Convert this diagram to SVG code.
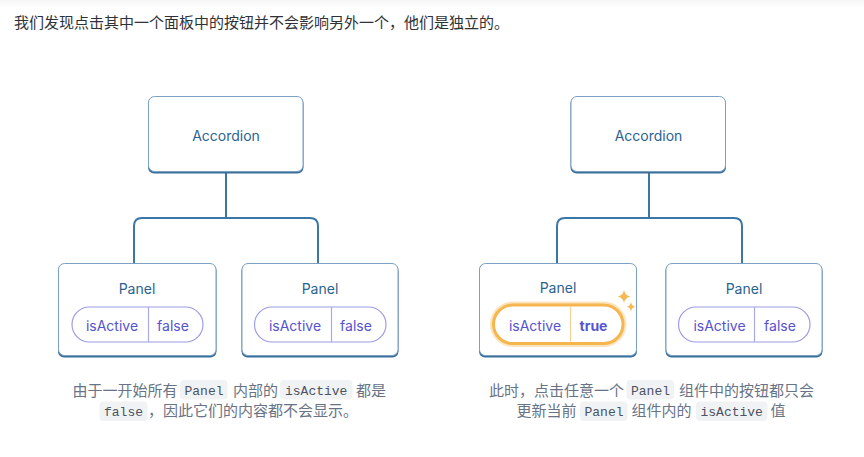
<svg xmlns="http://www.w3.org/2000/svg" width="864" height="457" viewBox="0 0 864 457">
<defs>
<linearGradient id="topband" x1="0" y1="0" x2="0" y2="1">
<stop offset="0" stop-color="#f6f6f6"/><stop offset="1" stop-color="#ffffff"/>
</linearGradient>
</defs>
<style>
.bg{fill:#ffffff}
.shadow{fill:#3b6f9b}
.box{fill:#ffffff;stroke:#7aa1c4;stroke-width:1}
.node{font-family:Inter,"Open Sans","Liberation Sans",sans-serif;font-size:14px;fill:#2a6390;text-anchor:middle;dominant-baseline:central}
.pill{fill:#ffffff;stroke:#9c9ce6;stroke-width:1.2}
.div{stroke:#a9a9ea;stroke-width:1.2}
.ptext{font-family:Inter,"Open Sans","Liberation Sans",sans-serif;font-size:14px;fill:#5653d0;text-anchor:middle;dominant-baseline:central}
.conn{fill:none;stroke:#3a76a6;stroke-width:2}
.cap{font-family:"Noto Sans CJK SC","Noto Sans",sans-serif;font-size:15px;fill:#687386}
.code{fill:#f1f2f4}
.mono{font-family:"Liberation Mono","DejaVu Sans Mono",monospace;font-size:13px;fill:#4b5262}
.top{font-family:"Noto Sans CJK SC","Noto Sans",sans-serif;font-size:15px;fill:#2e3238}
.spark{fill:#f6b955}
</style>
<rect class="bg" x="0" y="0" width="864" height="457"/>
<rect x="0" y="0" width="864" height="8" fill="url(#topband)"/>
<text class="top" x="14" y="27.5">我们发现点击其中一个面板中的按钮并不会影响另外一个，他们是独立的。</text>

<g id="connectors">
<path class="conn" d="M226 172 V218 M134 263 V226 Q134 218 142 218 H310 Q318 218 318 226 V263"/>
<path class="conn" d="M649 172 V218 M557 263 V226 Q557 218 565 218 H734 Q742 218 742 226 V263"/>
</g>

<g id="accordion-left">
<rect class="shadow" x="148" y="97.5" width="155.5" height="76" rx="6"/>
<rect class="box" x="148.5" y="96.5" width="154.5" height="75" rx="6"/>
<text class="node" x="226" y="135">Accordion</text>
</g>
<g id="panel-left-1">
<rect class="shadow" x="58" y="264.5" width="158.5" height="93" rx="6"/>
<rect class="box" x="58.5" y="263.5" width="157.5" height="92" rx="6"/>
<text class="node" x="137" y="288">Panel</text>
<rect class="pill" x="72" y="307" width="131" height="35" rx="17.5"/>
<line class="div" x1="148.5" y1="307" x2="148.5" y2="342"/>
<text class="ptext" x="112" y="325">isActive</text>
<text class="ptext" x="173" y="325">false</text>
</g>
<g id="panel-left-2">
<rect class="shadow" x="241.5" y="264.5" width="157" height="93" rx="6"/>
<rect class="box" x="242" y="263.5" width="156" height="92" rx="6"/>
<text class="node" x="320" y="288">Panel</text>
<rect class="pill" x="254.5" y="307" width="131.5" height="35" rx="17.5"/>
<line class="div" x1="331.5" y1="307" x2="331.5" y2="342"/>
<text class="ptext" x="295" y="325">isActive</text>
<text class="ptext" x="356" y="325">false</text>
</g>

<g id="accordion-right">
<rect class="shadow" x="570.5" y="97.5" width="155.5" height="76" rx="6"/>
<rect class="box" x="571" y="96.5" width="154.5" height="75" rx="6"/>
<text class="node" x="648.5" y="135">Accordion</text>
</g>
<g id="panel-right-1">
<rect class="shadow" x="479" y="264.5" width="158" height="93" rx="6"/>
<rect class="box" x="479.5" y="263.5" width="157" height="92" rx="6"/>
<text class="node" x="558" y="287">Panel</text>
<rect x="490" y="301.5" width="136.5" height="45.5" rx="22.75" fill="#fde3bb"/>
<rect x="493.5" y="305" width="129.5" height="38.5" rx="19.25" fill="#ffffff" stroke="#f6b64f" stroke-width="3"/>
<line x1="570.5" y1="306.5" x2="570.5" y2="341.5" stroke="#f8cf95" stroke-width="1.2"/>
<text class="ptext" x="535" y="325">isActive</text>
<text class="ptext" x="593.5" y="325" font-weight="700" fill="#4a47c2">true</text>
<path class="spark" d="M624 290 Q625 295.5 630.5 296.5 Q625 297.5 624 303 Q623 297.5 617.5 296.5 Q623 295.5 624 290 Z"/>
<path class="spark" d="M631 302 Q631.6 306 635.5 306.8 Q631.6 307.6 631 311.5 Q630.4 307.6 626.5 306.8 Q630.4 306 631 302 Z"/>
</g>
<g id="panel-right-2">
<rect class="shadow" x="665.5" y="264.5" width="157" height="93" rx="6"/>
<rect class="box" x="666" y="263.5" width="156" height="92" rx="6"/>
<text class="node" x="744" y="288">Panel</text>
<rect class="pill" x="678.5" y="307" width="131.5" height="35" rx="17.5"/>
<line class="div" x1="754.5" y1="307" x2="754.5" y2="342"/>
<text class="ptext" x="719.5" y="325">isActive</text>
<text class="ptext" x="780" y="325">false</text>
</g>

<g id="caption-left">
<rect class="code" x="180" y="380" width="47.5" height="19.5" rx="4"/>
<rect class="code" x="280" y="380" width="72.5" height="19.5" rx="4"/>
<rect class="code" x="99.5" y="401.5" width="48" height="19.5" rx="4"/>
<text class="cap" x="72.5" y="395.5">由于一开始所有</text>
<text class="mono" x="184.5" y="394.5">Panel</text>
<text class="cap" x="233" y="395.5">内部的</text>
<text class="mono" x="285" y="394.5">isActive</text>
<text class="cap" x="356" y="395.5">都是</text>
<text class="mono" x="104" y="416">false</text>
<text class="cap" x="148" y="416">，因此它们的内容都不会显示。</text>
</g>
<g id="caption-right">
<rect class="code" x="626.5" y="380" width="47.5" height="19.5" rx="4"/>
<rect class="code" x="580" y="401.5" width="47.5" height="19.5" rx="4"/>
<rect class="code" x="696" y="401.5" width="71.5" height="19.5" rx="4"/>
<text class="cap" x="489" y="395.5">此时，点击任意一个</text>
<text class="mono" x="631" y="394.5">Panel</text>
<text class="cap" x="679" y="395.5">组件中的按钮都只会</text>
<text class="cap" x="516.5" y="416">更新当前</text>
<text class="mono" x="584.5" y="416">Panel</text>
<text class="cap" x="631.5" y="416">组件内的</text>
<text class="mono" x="700.5" y="416">isActive</text>
<text class="cap" x="770.5" y="416">值</text>
</g>
</svg>
